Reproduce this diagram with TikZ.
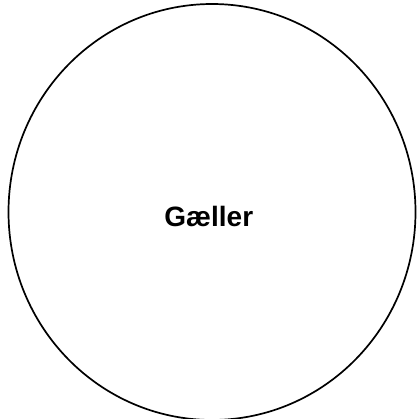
\documentclass[tikz,border=0pt]{standalone}
\usepackage{fontspec}
\setmainfont{Liberation Sans}
\begin{document}
\begin{tikzpicture}[x=1pt,y=1pt,
  outline/.style={draw=black,line width=1.7pt},
  lbl/.style={font=\fontsize{28}{32}\selectfont\bfseries,inner sep=0pt,anchor=base}]
\useasboundingbox (0,0) rectangle (419,418);
\begin{scope}
\clip (0,0) rectangle (419,418);
\draw[outline] (212,206) ellipse [x radius=203.5, y radius=208];
\end{scope}
\node[lbl] (t) at (208.8,192) {Gæller};
\end{tikzpicture}
\end{document}
